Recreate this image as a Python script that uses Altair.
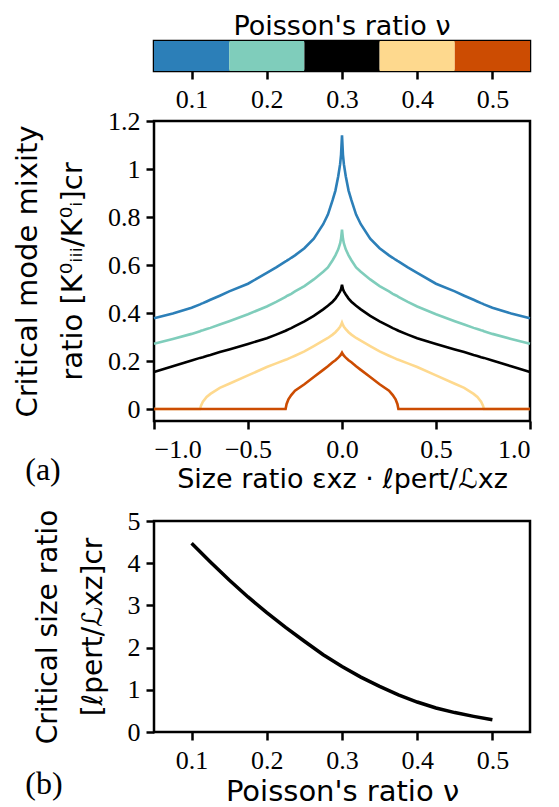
import altair as alt
import pandas as pd

SERIF = "Liberation Serif"
SANS = "DejaVu Sans"

# Poisson's ratio values and colours
NU = [0.1, 0.2, 0.3, 0.4, 0.5]
NU_LABELS = ["0.1", "0.2", "0.3", "0.4", "0.5"]
COLORS = ["#2c7fb8", "#7fcdbb", "#000000", "#fed98e", "#cc4c02"]

# Panel (a): |size ratio| grid (curves are symmetric about 0)
X_HALF = [0, 0.005, 0.01, 0.02, 0.035, 0.05, 0.075, 0.1, 0.15, 0.2, 0.25, 0.27,
          0.285, 0.295, 0.3, 0.35, 0.4, 0.5, 0.6, 0.65, 0.7, 0.72, 0.74, 0.75,
          0.755, 0.8, 0.9, 1.0]
MIX_01 = [1.14, 1.06, 1.02, 0.97, 0.91, 0.87, 0.81, 0.77, 0.71, 0.67, 0.64, 0.63,
          0.622, 0.617, 0.615, 0.59, 0.567, 0.522, 0.49, 0.472, 0.455, 0.448, 0.441, 0.438,
          0.436, 0.422, 0.398, 0.378]
MIX_02 = [0.747, 0.71, 0.69, 0.665, 0.64, 0.62, 0.59, 0.572, 0.54, 0.512, 0.49, 0.48,
          0.474, 0.47, 0.467, 0.446, 0.427, 0.395, 0.366, 0.352, 0.338, 0.333, 0.328, 0.326,
          0.324, 0.313, 0.292, 0.272]
MIX_03 = [0.518, 0.5, 0.49, 0.477, 0.46, 0.447, 0.43, 0.415, 0.388, 0.365, 0.345, 0.337,
          0.332, 0.328, 0.326, 0.31, 0.295, 0.271, 0.248, 0.237, 0.225, 0.221, 0.216, 0.214,
          0.213, 0.202, 0.178, 0.154]
MIX_04 = [0.36, 0.35, 0.343, 0.333, 0.32, 0.31, 0.296, 0.285, 0.262, 0.24, 0.222, 0.215,
          0.21, 0.206, 0.205, 0.19, 0.175, 0.14, 0.105, 0.088, 0.063, 0.05, 0.03, 0.014,
          0.0, 0.0, 0.0, 0.0]
MIX_05 = [0.235, 0.228, 0.222, 0.214, 0.203, 0.195, 0.178, 0.163, 0.133, 0.103, 0.076, 0.058,
          0.04, 0.02, 0.0, 0.0, 0.0, 0.0, 0.0, 0.0, 0.0, 0.0, 0.0, 0.0,
          0.0, 0.0, 0.0, 0.0]
MIX = [MIX_01, MIX_02, MIX_03, MIX_04, MIX_05]

# Panel (b): critical size ratio vs Poisson's ratio
NU_B = [0.1, 0.125, 0.15, 0.175, 0.2, 0.225, 0.25, 0.275, 0.3, 0.325, 0.35,
        0.375, 0.4, 0.425, 0.45, 0.475, 0.5]
SIZE_B = [4.47, 4.03, 3.6, 3.2, 2.83, 2.48, 2.15, 1.83, 1.55, 1.3, 1.08,
          0.88, 0.71, 0.57, 0.46, 0.37, 0.29]

# ---- build tables ----
rows = []
for lab, vals in zip(NU_LABELS, MIX):
    xs = [-h for h in reversed(X_HALF)] + X_HALF[1:]
    ys = list(reversed(vals)) + vals[1:]
    for xv, yv in zip(xs, ys):
        rows.append({"nu": lab, "x": xv, "m": yv})
df_a = pd.DataFrame(rows)
df_b = pd.DataFrame({"nu": NU_B, "s": SIZE_B})
df_cb = pd.DataFrame({"nu": NU_LABELS,
                      "lo": [n - 0.05 for n in NU],
                      "hi": [n + 0.05 for n in NU]})

color_scale = alt.Scale(domain=NU_LABELS, range=COLORS)
W = 376

# ---- colour bar ----
colorbar = alt.Chart(
    df_cb,
    title=alt.Title("Poisson's ratio ν", font=SANS, fontSize=27, fontWeight="normal",
                    color="black", offset=0),
).mark_rect().encode(
    x=alt.X("lo:Q", scale=alt.Scale(domain=[0.05, 0.55], nice=False, zero=False),
            axis=alt.Axis(values=NU, format=".1f", title=None)),
    x2="hi:Q",
    color=alt.Color("nu:N", scale=color_scale, legend=None),
).properties(width=W, height=30)

# ---- panel (a) ----
lines_a = alt.Chart(df_a).mark_line(strokeWidth=2.6).encode(
    x=alt.X("x:Q", scale=alt.Scale(domain=[-1, 1], nice=False),
            axis=alt.Axis(values=[-1, -0.5, 0, 0.5, 1], format=".1f",
                          title="Size ratio εxz · ℓpert/ℒxz", titleFontSize=27)),
    y=alt.Y("m:Q", scale=alt.Scale(domain=[-0.05, 1.2], nice=False, zero=False),
            axis=alt.Axis(values=[0, 0.2, 0.4, 0.6, 0.8, 1.0, 1.2],
                          labelExpr="datum.value == 0 ? '0' : (datum.value == 1 ? '1' : format(datum.value, '.1f'))",
                          title=["Critical mode mixity", "ratio [K⁰ᵢᵢᵢ/K⁰ᵢ]cr"],
                          titleFontSize=29)),
    color=alt.Color("nu:N", scale=color_scale, legend=None),
)
label_a = alt.Chart(pd.DataFrame({"t": ["(a)"]})).mark_text(
    font=SERIF, fontSize=32, color="black", align="center", baseline="middle"
).encode(text="t:N", x=alt.value(-111), y=alt.value(349))
panel_a = alt.layer(lines_a, label_a).properties(width=W, height=300)

# ---- panel (b) ----
line_b = alt.Chart(df_b).mark_line(strokeWidth=3.5, color="black").encode(
    x=alt.X("nu:Q", scale=alt.Scale(domain=[0.05, 0.55], nice=False, zero=False),
            axis=alt.Axis(values=NU, format=".1f", title="Poisson's ratio ν",
                          titleFontSize=29)),
    y=alt.Y("s:Q", scale=alt.Scale(domain=[0, 5], nice=False),
            axis=alt.Axis(values=[0, 1, 2, 3, 4, 5], format="d",
                          title=["Critical size ratio", "[ℓpert/ℒxz]cr"],
                          titleFontSize=28)),
)
label_b = alt.Chart(pd.DataFrame({"t": ["(b)"]})).mark_text(
    font=SERIF, fontSize=32, color="black", align="center", baseline="middle"
).encode(text="t:N", x=alt.value(-110), y=alt.value(263))
panel_b = alt.layer(line_b, label_b).properties(width=W, height=211)

panels = alt.vconcat(panel_a, panel_b, spacing=100, bounds="flush")
chart = alt.vconcat(colorbar, panels, spacing=50, bounds="flush").properties(
    padding={"left": 4, "top": 3, "right": 4, "bottom": 2}
).configure_view(
    stroke="black", strokeWidth=2.5
).configure_axis(
    grid=False, domain=False,
    ticks=True, tickSize=8, tickWidth=2.5, tickColor="black",
    labelFont=SERIF, labelFontSize=26, labelColor="black",
    titleFont=SANS, titleFontSize=29, titleFontWeight="normal", titleColor="black",
    titleLineHeight=45,
).configure_axisX(
    labelPadding=7, titlePadding=4
).configure_axisY(
    labelPadding=6, titlePadding=20
)

chart.save("out.html", embed_options={"renderer": "svg", "actions": False})
